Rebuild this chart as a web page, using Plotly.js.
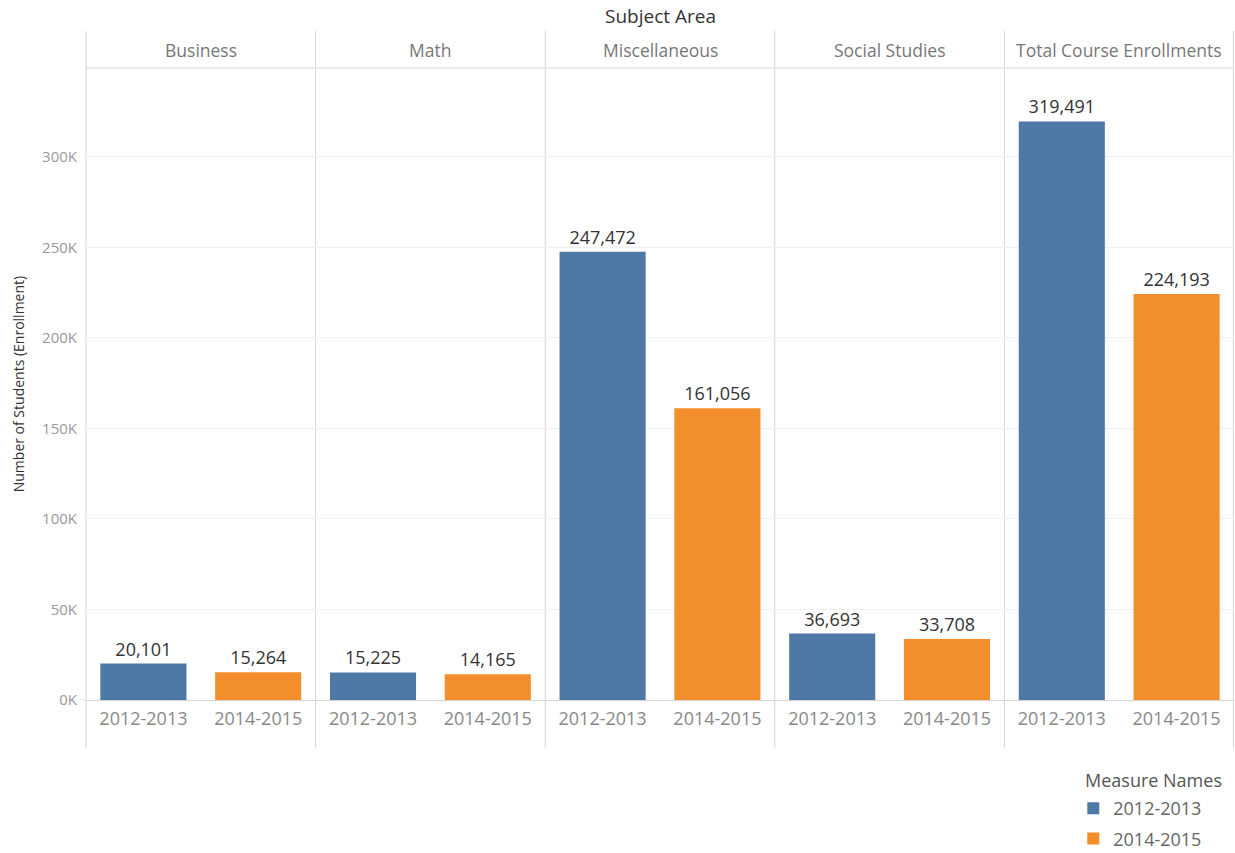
<!DOCTYPE html>
<html>
<head>
<meta charset="utf-8">
<script src="https://cdn.plot.ly/plotly-3.0.1.min.js"></script>
<style>
  html, body { margin: 0; padding: 0; background: #fff; }
  #chart { width: 1235px; height: 853px; }
</style>
</head>
<body>
<div id="chart"></div>
<script>
// ---- data ----
const panels = ['Business', 'Math', 'Miscellaneous', 'Social Studies', 'Total Course Enrollments'];
const seriesNames = ['2012-2013', '2014-2015'];
const values2012_2013 = [20101, 15225, 247472, 36693, 319491];
const values2014_2015 = [15264, 14165, 161056, 33708, 224193];
const yTickVals = [0, 50000, 100000, 150000, 200000, 250000, 300000];
const yTickText = ['0K', '50K', '100K', '150K', '200K', '250K', '300K'];

// ---- styling ----
const colors = ['#4E79A7', '#F28E2B'];
const FONT = 'Open Sans, Lato, sans-serif';
const seriesValues = [values2012_2013, values2014_2015];

const traces = [];
panels.forEach((p, i) => {
  const xa = i === 0 ? 'x' : 'x' + (i + 1);
  seriesNames.forEach((s, k) => {
    traces.push({
      type: 'bar',
      x: [s],
      y: [seriesValues[k][i]],
      xaxis: xa,
      yaxis: 'y',
      name: s,
      legendgroup: s,
      showlegend: i === 0,
      width: 0.75,
      marker: { color: colors[k] },
      texttemplate: '%{y:,}',
      textposition: 'outside',
      textfont: { family: FONT, size: 18, color: '#333' },
      cliponaxis: false,
      hoverinfo: 'x+y'
    });
  });
});

const layout = {
  width: 1235,
  height: 853,
  margin: { l: 86, r: 1, t: 68, b: 153, autoexpand: false },
  paper_bgcolor: '#fff',
  plot_bgcolor: '#fff',
  font: { family: FONT, color: '#333' },
  barmode: 'overlay',
  showlegend: true,
  legend: {
    x: 0.86, xanchor: 'left',
    y: (700 - 790) / 632, yanchor: 'top',
    font: { family: FONT, size: 18, color: '#666' },
    bgcolor: 'rgba(0,0,0,0)',
    traceorder: 'grouped',
    tracegroupgap: 4,
    itemwidth: 30
  },
  yaxis: {
    domain: [0, 1],
    anchor: 'x',
    range: [0, 349000],
    tickvals: yTickVals,
    ticktext: yTickText,
    tickfont: { family: FONT, size: 15, color: '#999' },
    ticks: 'outside', ticklen: 5, tickcolor: 'rgba(0,0,0,0)',
    showgrid: true, gridcolor: '#f0f0f0', gridwidth: 1,
    zeroline: true, zerolinecolor: '#d6d6d6', zerolinewidth: 1,
    showline: false,
    fixedrange: true
  },
  shapes: [],
  annotations: []
};

panels.forEach((p, i) => {
  const key = i === 0 ? 'xaxis' : 'xaxis' + (i + 1);
  layout[key] = {
    domain: [i / 5, (i + 1) / 5],
    anchor: 'y',
    type: 'category',
    categoryorder: 'array',
    categoryarray: seriesNames,
    range: [-0.5, 1.5],
    showgrid: false,
    zeroline: false,
    showline: false,
    ticks: 'outside', ticklen: 2, tickcolor: 'rgba(0,0,0,0)',
    tickfont: { family: FONT, size: 18, color: '#888' },
    fixedrange: true
  };
  // panel header
  layout.annotations.push({
    xref: 'paper', yref: 'paper',
    x: (i + 0.5) / 5, y: 1.029,
    text: p, showarrow: false,
    xanchor: 'center', yanchor: 'middle',
    font: { family: FONT, size: 17.5, color: '#777' }
  });
});

// vertical panel dividers
for (let i = 0; i <= 5; i++) {
  const xv = i === 5 ? 0.9995 : i / 5;
  layout.shapes.push({
    type: 'line', xref: 'paper', yref: 'paper',
    x0: xv, x1: xv, y0: -0.076, y1: 1.0585,
    line: { color: '#d4d4d4', width: 1 }, layer: 'below'
  });
}
// header separator
layout.shapes.push({
  type: 'line', xref: 'paper', yref: 'paper',
  x0: 0, x1: 1, y0: 1, y1: 1,
  line: { color: '#d9d9d9', width: 1 }
});
// zero line extension to the left
layout.shapes.push({
  type: 'line', xref: 'paper', yref: 'y',
  x0: -0.006, x1: 0, y0: 0, y1: 0,
  line: { color: '#d6d6d6', width: 1 }
});

// overall column title
layout.annotations.push({
  xref: 'paper', yref: 'paper',
  x: 0.5, y: 1.082,
  text: 'Subject Area', showarrow: false,
  xanchor: 'center', yanchor: 'middle',
  font: { family: FONT, size: 19, color: '#333' }
});
// legend title
layout.annotations.push({
  xref: 'paper', yref: 'paper',
  x: (1083 - 86) / 1148, y: (700 - 780) / 632,
  text: 'Measure Names', showarrow: false,
  xanchor: 'left', yanchor: 'middle',
  font: { family: FONT, size: 18, color: '#555' }
});
// y-axis title
layout.annotations.push({
  xref: 'paper', yref: 'paper',
  x: -0.059, y: 0.5,
  text: 'Number of Students (Enrollment)', showarrow: false,
  textangle: -90,
  xanchor: 'center', yanchor: 'middle',
  font: { family: FONT, size: 14, color: '#333' }
});

Plotly.newPlot('chart', traces, layout, { displayModeBar: false, staticPlot: true });
</script>
</body>
</html>
